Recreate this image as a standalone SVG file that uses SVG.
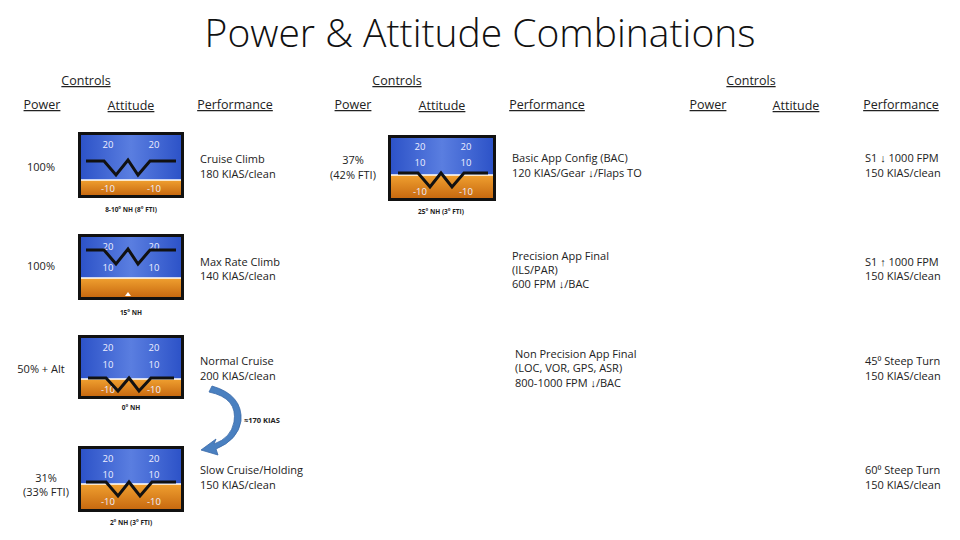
<svg xmlns="http://www.w3.org/2000/svg" width="960" height="540" viewBox="0 0 960 540">
<style>
text{font-family:"Open Sans","Liberation Sans",sans-serif;fill:#222}
.t{font-size:39px;font-weight:300;fill:#111}
.h{font-size:12.5px;text-decoration:underline}
.b{font-size:11px}
.c{font-size:6.5px;text-anchor:middle;font-weight:bold}
.m{text-anchor:middle}
.pt{font-size:9.5px;fill:#eef;text-anchor:middle}
.w{fill:none;stroke:#111;stroke-width:3;stroke-linejoin:miter}
.hz{stroke:#fff;stroke-width:1.5}
</style>
<defs>
<linearGradient id="bl" x1="0" x2="1"><stop offset="0" stop-color="#2d53c8"/><stop offset="0.5" stop-color="#5a7ee0"/><stop offset="1" stop-color="#2d53c8"/></linearGradient>
<linearGradient id="or" x1="0" x2="0" y1="0" y2="1"><stop offset="0" stop-color="#f0a030"/><stop offset="1" stop-color="#c86a10"/></linearGradient>
</defs>
<text class="t m" x="480" y="47">Power &amp; Attitude Combinations</text>
<g id="headers">
<text class="h m" x="86" y="85">Controls</text>
<text class="h m" x="397" y="85">Controls</text>
<text class="h m" x="751" y="85">Controls</text>
<text class="h m" x="42" y="109">Power</text><text class="h m" x="131" y="110">Attitude</text><text class="h m" x="235" y="109">Performance</text>
<text class="h m" x="353" y="109">Power</text><text class="h m" x="442" y="110">Attitude</text><text class="h m" x="547" y="109">Performance</text>
<text class="h m" x="708" y="109">Power</text><text class="h m" x="796" y="110">Attitude</text><text class="h m" x="901" y="109">Performance</text>
</g>
<g id="ai1" transform="translate(78,132)">
<rect width="106" height="66" fill="#111"/><rect x="3" y="3" width="100" height="60" fill="url(#bl)"/><rect x="3" y="48" width="100" height="15" fill="url(#or)"/>
<line class="hz" x1="3" y1="48" x2="103" y2="48"/>
<text class="pt" x="30" y="16">20</text><text class="pt" x="76" y="16">20</text><text class="pt" x="30" y="60">-10</text><text class="pt" x="76" y="60">-10</text>
<polyline class="w" points="8,29 26,29 38,43 50,28 60,43 72,29 98,29"/>
<text class="c" x="53" y="80">8-10° NH (8° FTI)</text>
</g>
<g id="ai2" transform="translate(78,234)">
<rect width="106" height="66" fill="#111"/><rect x="3" y="3" width="100" height="60" fill="url(#bl)"/><rect x="3" y="44" width="100" height="19" fill="url(#or)"/>
<line class="hz" x1="3" y1="44" x2="103" y2="44"/>
<text class="pt" x="30" y="16">20</text><text class="pt" x="76" y="16">20</text><text class="pt" x="30" y="37">10</text><text class="pt" x="76" y="37">10</text>
<polyline class="w" points="8,16 26,16 38,30 50,15 60,30 72,16 98,16"/>
<path d="M50 58l3 4h-6z" fill="#fff"/>
<text class="c" x="53" y="81">15° NH</text>
</g>
<g id="ai3" transform="translate(78,335)">
<rect width="106" height="64" fill="#111"/><rect x="3" y="3" width="100" height="58" fill="url(#bl)"/><rect x="3" y="44" width="100" height="17" fill="url(#or)"/>
<line class="hz" x1="3" y1="44" x2="103" y2="44"/>
<text class="pt" x="30" y="16">20</text><text class="pt" x="76" y="16">20</text><text class="pt" x="30" y="33">10</text><text class="pt" x="76" y="33">10</text><text class="pt" x="30" y="58">-10</text><text class="pt" x="76" y="58">-10</text>
<polyline class="w" points="10,43 28,43 40,56 51,43 61,56 73,43 96,43"/>
<text class="c" x="53" y="75">0° NH</text>
</g>
<g id="ai4" transform="translate(78,446)">
<rect width="106" height="66" fill="#111"/><rect x="3" y="3" width="100" height="60" fill="url(#bl)"/><rect x="3" y="38" width="100" height="25" fill="url(#or)"/>
<line class="hz" x1="3" y1="38" x2="103" y2="38"/>
<text class="pt" x="30" y="16">20</text><text class="pt" x="76" y="16">20</text><text class="pt" x="30" y="32">10</text><text class="pt" x="76" y="32">10</text><text class="pt" x="30" y="59">-10</text><text class="pt" x="76" y="59">-10</text>
<polyline class="w" points="8,36 28,36 40,50 51,36 62,50 74,36 98,36"/>
<text class="c" x="53" y="79">2° NH (3° FTI)</text>
</g>
<g id="ai5" transform="translate(388,135)">
<rect width="108" height="66" fill="#111"/><rect x="3" y="3" width="102" height="60" fill="url(#bl)"/><rect x="3" y="40" width="102" height="23" fill="url(#or)"/>
<line class="hz" x1="3" y1="40" x2="105" y2="40"/>
<text class="pt" x="32" y="15">20</text><text class="pt" x="78" y="15">20</text><text class="pt" x="32" y="31">10</text><text class="pt" x="78" y="31">10</text><text class="pt" x="32" y="60">-10</text><text class="pt" x="78" y="60">-10</text>
<polyline class="w" points="10,38 30,38 42,52 53,38 64,52 76,38 100,38"/>
<text class="c" x="53" y="79">25° NH (3° FTI)</text>
</g>
<g id="power">
<text class="b m" x="41" y="171">100%</text>
<text class="b m" x="41" y="270">100%</text>
<text class="b m" x="41" y="373">50% + Alt</text>
<text class="b m" x="46" y="482">31%</text><text class="b m" x="46" y="496">(33% FTI)</text>
<text class="b m" x="353" y="164">37%</text><text class="b m" x="353" y="179">(42% FTI)</text>
</g>
<g id="perf1">
<text class="b" x="200" y="163">Cruise Climb</text><text class="b" x="200" y="178">180 KIAS/clean</text>
<text class="b" x="200" y="266">Max Rate Climb</text><text class="b" x="200" y="280">140 KIAS/clean</text>
<text class="b" x="200" y="365">Normal Cruise</text><text class="b" x="200" y="380">200 KIAS/clean</text>
<text class="b" x="200" y="474">Slow Cruise/Holding</text><text class="b" x="200" y="489">150 KIAS/clean</text>
</g>
<g id="perf2">
<text class="b" x="512" y="162">Basic App Config (BAC)</text><text class="b" x="512" y="177">120 KIAS/Gear ↓/Flaps TO</text>
<text class="b" x="512" y="260">Precision App Final</text><text class="b" x="512" y="274">(ILS/PAR)</text><text class="b" x="512" y="288">600 FPM ↓/BAC</text>
<text class="b" x="515" y="358">Non Precision App Final</text><text class="b" x="515" y="372">(LOC, VOR, GPS, ASR)</text><text class="b" x="515" y="387">800-1000 FPM ↓/BAC</text>
</g>
<g id="perf3">
<text class="b" x="865" y="162">S1 ↓ 1000 FPM</text><text class="b" x="865" y="177">150 KIAS/clean</text>
<text class="b" x="865" y="266">S1 ↑ 1000 FPM</text><text class="b" x="865" y="280">150 KIAS/clean</text>
<text class="b" x="865" y="365">45⁰ Steep Turn</text><text class="b" x="865" y="380">150 KIAS/clean</text>
<text class="b" x="865" y="474">60⁰ Steep Turn</text><text class="b" x="865" y="489">150 KIAS/clean</text>
</g>
<g id="connectors">
<path d="M209 392 Q238 398 234 422 Q231 438 214 444 L216 439 L201 450 L218 455 L216 449 Q238 440 241 421 Q243 395 212 386 Z" fill="#4a80c0" stroke="#3a6aa8" stroke-width="0.8"/>
<text x="244" y="423" style="font-size:7.5px;font-weight:bold">≈170 KIAS</text>
</g>
</svg>
